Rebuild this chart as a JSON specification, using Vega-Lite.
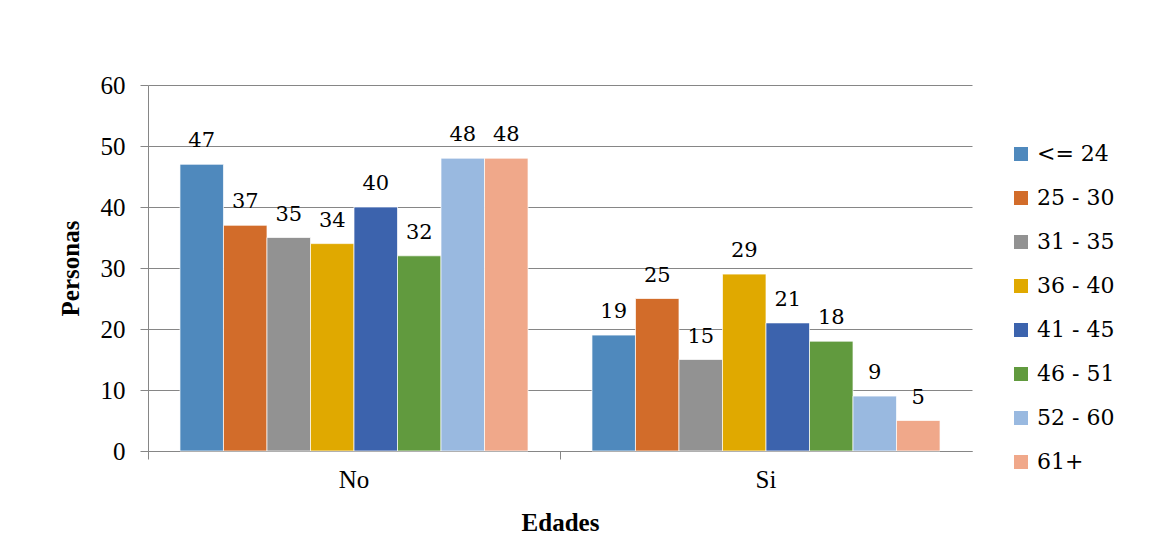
{
  "$schema": "https://vega.github.io/schema/vega-lite/v6.json",
  "width": 824,
  "height": 366,
  "autosize": {"type": "none"},
  "padding": {"left": 148, "top": 85, "right": 185, "bottom": 104},
  "background": "white",
  "data": {"values": [
    {"respuesta": "No", "edad": "<= 24", "personas": 47},
    {"respuesta": "No", "edad": "25 - 30", "personas": 37},
    {"respuesta": "No", "edad": "31 - 35", "personas": 35},
    {"respuesta": "No", "edad": "36 - 40", "personas": 34},
    {"respuesta": "No", "edad": "41 - 45", "personas": 40},
    {"respuesta": "No", "edad": "46 - 51", "personas": 32},
    {"respuesta": "No", "edad": "52 - 60", "personas": 48},
    {"respuesta": "No", "edad": "61+", "personas": 48},
    {"respuesta": "Si", "edad": "<= 24", "personas": 19},
    {"respuesta": "Si", "edad": "25 - 30", "personas": 25},
    {"respuesta": "Si", "edad": "31 - 35", "personas": 15},
    {"respuesta": "Si", "edad": "36 - 40", "personas": 29},
    {"respuesta": "Si", "edad": "41 - 45", "personas": 21},
    {"respuesta": "Si", "edad": "46 - 51", "personas": 18},
    {"respuesta": "Si", "edad": "52 - 60", "personas": 9},
    {"respuesta": "Si", "edad": "61+", "personas": 5}
  ]},
  "encoding": {
    "x": {
      "field": "respuesta", "type": "nominal", "title": "Edades",
      "scale": {"paddingInner": 0, "paddingOuter": 0},
      "axis": {
        "labelAngle": 0, "tickSize": 8, "bandPosition": 0, "labelPadding": 8,
        "domainColor": "#868686", "tickColor": "#868686",
        "labelFontSize": 25, "labelColor": "black",
        "titleFontSize": 25, "titleFontWeight": "bold", "titleColor": "black",
        "titleX": 412, "titleY": 71, "titleBaseline": "middle", "titleAlign": "center"
      }
    },
    "xOffset": {
      "field": "edad", "type": "nominal",
      "sort": ["<= 24", "25 - 30", "31 - 35", "36 - 40", "41 - 45", "46 - 51", "52 - 60", "61+"],
      "scale": {"paddingInner": 0, "paddingOuter": 0.735}
    },
    "y": {
      "field": "personas", "type": "quantitative", "title": "Personas",
      "scale": {"domain": [0, 60], "nice": false},
      "axis": {
        "values": [0, 10, 20, 30, 40, 50, 60], "grid": true, "gridColor": "#868686",
        "domainColor": "#868686", "tickColor": "#868686", "tickSize": 8, "labelPadding": 15,
        "labelFontSize": 25, "labelColor": "black",
        "titleFontSize": 25, "titleFontWeight": "bold", "titleColor": "black",
        "titleX": -78, "titleY": 183, "titleAngle": -90, "titleBaseline": "middle", "titleAlign": "center"
      }
    }
  },
  "layer": [
    {
      "mark": {"type": "bar", "stroke": "white", "strokeWidth": 0.7},
      "encoding": {
        "color": {
          "field": "edad", "type": "nominal",
          "scale": {
            "domain": ["<= 24", "25 - 30", "31 - 35", "36 - 40", "41 - 45", "46 - 51", "52 - 60", "61+"],
            "range": ["#4f89bd", "#d26c2a", "#929292", "#e0a900", "#3c63ad", "#619a3e", "#99b9e0", "#f0a88a"]
          },
          "legend": {
            "title": null, "orient": "none", "legendX": 862, "legendY": 58,
            "symbolType": "square", "symbolSize": 196, "symbolStrokeWidth": 0, "symbolOpacity": 1,
            "labelFont": "DejaVu Serif", "labelFontSize": 22, "labelColor": "black",
            "labelOffset": 5, "rowPadding": 22
          }
        }
      }
    },
    {
      "mark": {"type": "text", "baseline": "alphabetic", "dy": -17, "font": "DejaVu Serif", "fontSize": 21, "color": "black"},
      "encoding": {"text": {"field": "personas", "type": "quantitative"}}
    }
  ],
  "config": {
    "view": {"stroke": null},
    "axis": {"labelFont": "Liberation Serif", "titleFont": "Liberation Serif"}
  }
}
